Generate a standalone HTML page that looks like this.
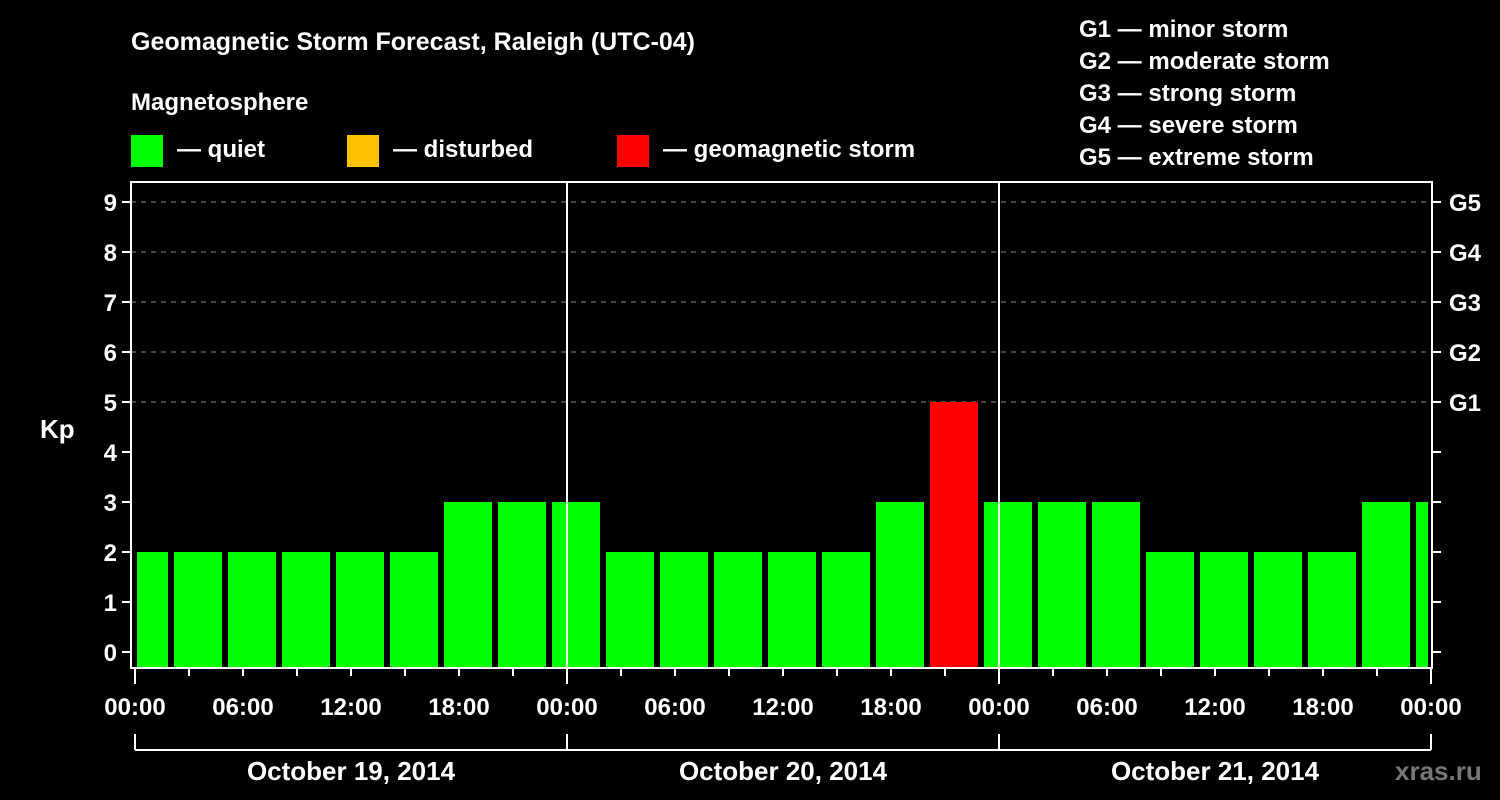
<!DOCTYPE html>
<html><head><meta charset="utf-8"><style>
body{margin:0;background:#000;width:1500px;height:800px;overflow:hidden}
svg{display:block;font-family:"Liberation Sans",sans-serif;font-weight:bold}
</style></head><body>
<svg id="c" width="1500" height="800">
<text x="131" y="50" fill="#fff" font-size="25">Geomagnetic Storm Forecast, Raleigh (UTC-04)</text>
<text x="131" y="110" fill="#fff" font-size="24">Magnetosphere</text>
<rect x="131" y="135" width="32" height="32" fill="#00ff00"/>
<text x="177" y="157" fill="#fff" font-size="24">— quiet</text>
<rect x="347" y="135" width="32" height="32" fill="#ffc000"/>
<text x="393" y="157" fill="#fff" font-size="24">— disturbed</text>
<rect x="617" y="135" width="32" height="32" fill="#ff0000"/>
<text x="663" y="157" fill="#fff" font-size="24">— geomagnetic storm</text>
<g fill="#fff" font-size="24">
<text x="1079" y="37">G1 — minor storm</text>
<text x="1079" y="69">G2 — moderate storm</text>
<text x="1079" y="101">G3 — strong storm</text>
<text x="1079" y="133">G4 — severe storm</text>
<text x="1079" y="165">G5 — extreme storm</text>
</g>
<text x="40" y="438" fill="#fff" font-size="26">Kp</text>
<text x="1395" y="780" fill="#777" font-size="26">xras.ru</text>
<g id="plot"></g>
</svg>
<script>
const values=[2,2,2,2,2,2,3,3,3,2,2,2,2,2,3,5,3,3,3,2,2,2,2,3,3];
const kpTicks=[0,1,2,3,4,5,6,7,8,9];
const gLabels=["G1","G2","G3","G4","G5"];
const dayLabels=["October 19, 2014","October 20, 2014","October 21, 2014"];
const hourLabels=["00:00","06:00","12:00","18:00"];
const NS="http://www.w3.org/2000/svg";
const g=document.getElementById('plot');
const L=131,R=1432,T=182,B=668;
const x0=135,pxH=18;
const xs=h=>x0+h*pxH;
const ys=v=>652-v*50;
function el(t,a){const e=document.createElementNS(NS,t);for(const k in a)e.setAttribute(k,a[k]);g.appendChild(e);return e;}
// grid
kpTicks.forEach(v=>{
 if(v>0&&v>=5){const e=el('line',{x1:L,x2:R,y1:ys(v),y2:ys(v),stroke:'#888','stroke-dasharray':'5,5'});
 
 }
 const t=el('line',{x1:L-9,x2:L,y1:ys(v),y2:ys(v),stroke:'#fff','stroke-width':2});
 
 
 const r=el('line',{x1:R,x2:R+9,y1:ys(v),y2:ys(v),stroke:'#fff','stroke-width':2});
 
 
 const l=el('text',{x:L-14,y:ys(v)+9,fill:'#fff','font-size':24,'text-anchor':'end'});l.textContent=v;
 
 
});
gLabels.forEach((s,i)=>{const l=el('text',{x:1449,y:ys(5+i)+9,fill:'#fff','font-size':24});l.textContent=s;
 
 });
// bars
values.forEach((v,i)=>{
 let a=xs(i*3)-15,b=a+48;a=Math.max(a,L+6);b=Math.min(b,R-4);
 const col=v>=5?'#ff0000':v>=4?'#ffc000':'#00ff00';
 const r=el('rect',{x:a,y:ys(v),width:b-a,height:B-1-ys(v),fill:col});
 
 
});
// day separators
for(let d=1;d<3;d++){const e=el('line',{x1:xs(d*24),x2:xs(d*24),y1:T,y2:B,stroke:'#fff','stroke-width':2});
 
 }
const f=el('rect',{x:L,y:T,width:R-L,height:B-T,fill:'none',stroke:'#fff','stroke-width':2});


// x ticks
for(let h=0;h<=72;h+=3){const len=h%24===0?16:8;
 const e=el('line',{x1:xs(h),x2:xs(h),y1:B,y2:B+len,stroke:'#fff','stroke-width':2});
 
 
 if(h%6===0){const t=el('text',{x:xs(h),y:715,fill:'#fff','font-size':24,'text-anchor':'middle'});
 t.textContent=hourLabels[(h%24)/6];
 
 }
}
const br=el('line',{x1:xs(0),x2:xs(72),y1:750,y2:750,stroke:'#fff','stroke-width':2});


for(let d=0;d<=3;d++){const e=el('line',{x1:xs(d*24),x2:xs(d*24),y1:734,y2:750,stroke:'#fff','stroke-width':2});
 
 }
dayLabels.forEach((s,d)=>{const t=el('text',{x:xs(d*24+12),y:780,fill:'#fff','font-size':26,'text-anchor':'middle'});t.textContent=s;
 
 });
</script>
</body></html>
